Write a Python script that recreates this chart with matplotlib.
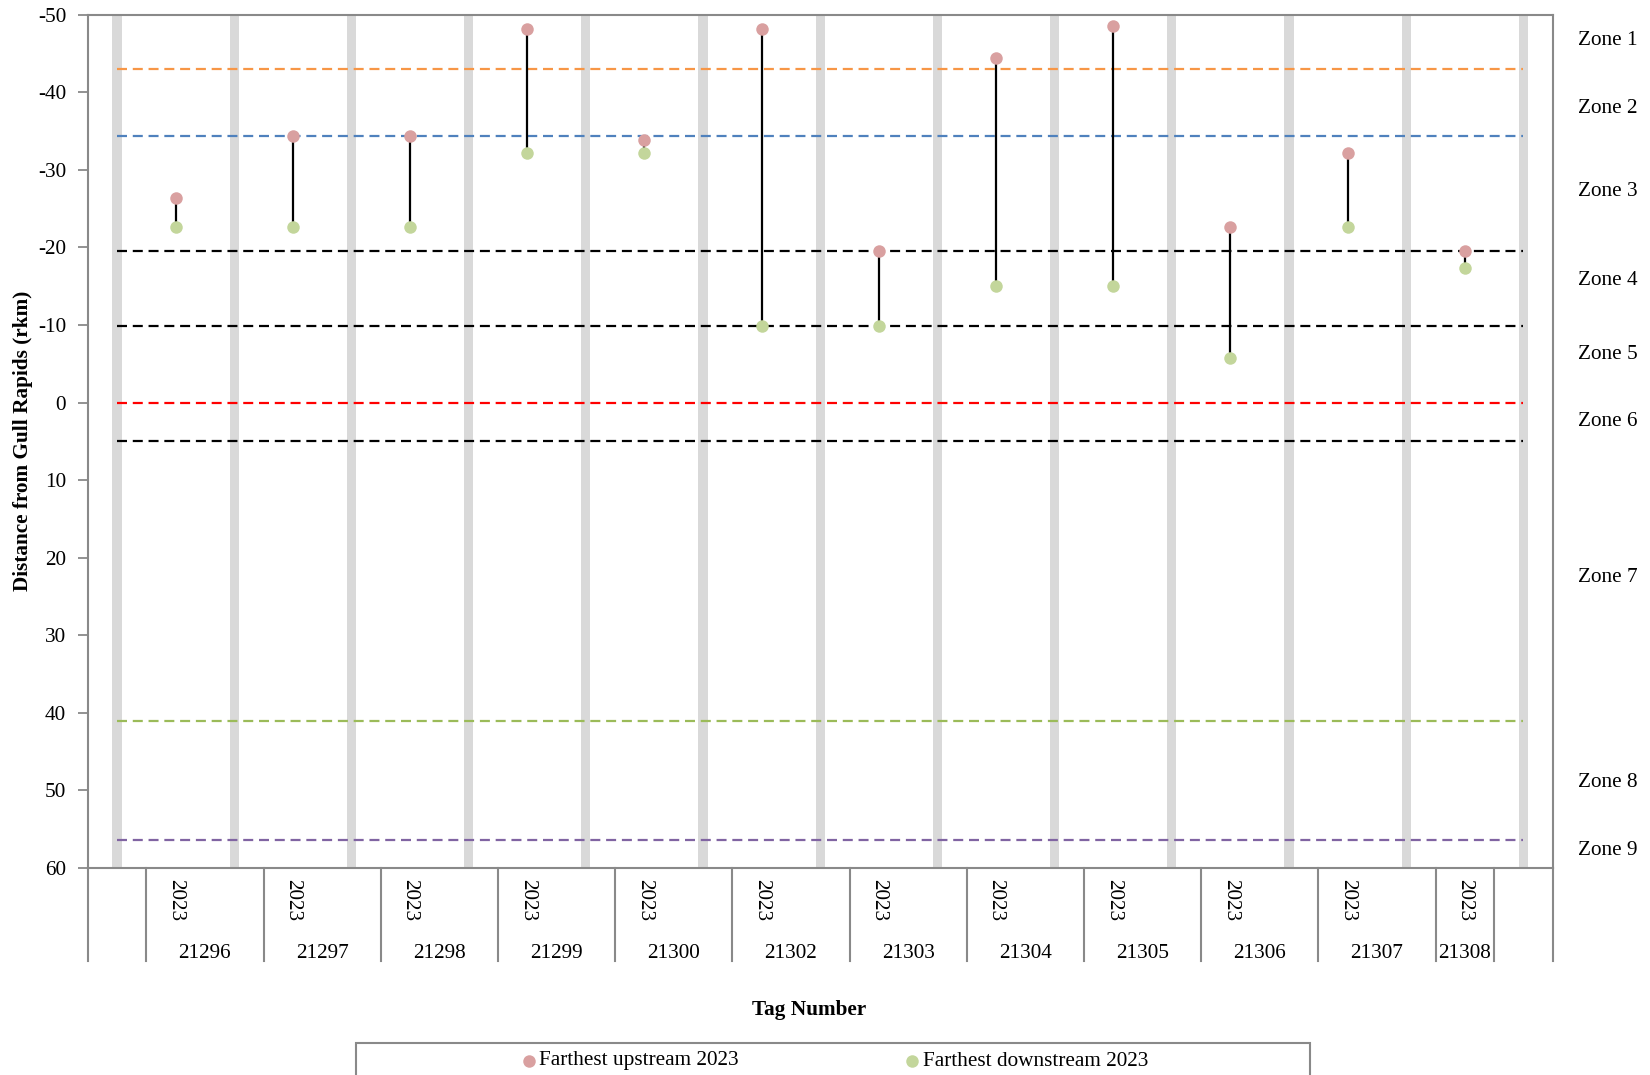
import matplotlib
matplotlib.use("Agg")
import matplotlib.pyplot as plt
from matplotlib.lines import Line2D
from matplotlib.patches import Rectangle

plt.rcParams['font.family'] = ['Liberation Serif', 'DejaVu Serif']
plt.rcParams['axes.unicode_minus'] = False

# ---------------- data ----------------
tags = ['21296', '21297', '21298', '21299', '21300', '21302', '21303',
        '21304', '21305', '21306', '21307', '21308']
year_label = '2023'
upstream = [-26.4, -34.4, -34.4, -48.2, -33.9, -48.2, -19.6, -44.4, -48.6, -22.6, -32.2, -19.6]
downstream = [-22.6, -22.6, -22.6, -32.2, -32.2, -9.9, -9.9, -15.0, -15.0, -5.8, -22.6, -17.4]

zone_line_values = [-43.0, -34.4, -19.6, -9.9, 0.0, 4.9, 41.0, 56.4]
zone_line_colors = ['#F79646', '#4F81BD', 'black', 'black', '#FF0000', 'black', '#9BBB59', '#8064A2']

zone_names = ['Zone 1', 'Zone 2', 'Zone 3', 'Zone 4', 'Zone 5', 'Zone 6', 'Zone 7', 'Zone 8', 'Zone 9']
zone_label_pos = [-46.65, -37.95, -27.15, -15.75, -6.25, 2.45, 22.55, 48.95, 57.75]

y_ticks = [-50, -40, -30, -20, -10, 0, 10, 20, 30, 40, 50, 60]
y_min, y_max = -50, 60

FS = 15.3

# ---------------- layout ----------------
W, H = 1650, 1075
fig = plt.figure(figsize=(W / 100, H / 100), dpi=100)
ax_l, ax_r, ax_t, ax_b = 87.7, 1552.7, 14.7, 868.0
ax = fig.add_axes([ax_l / W, 1 - ax_b / H, (ax_r - ax_l) / W, (ax_b - ax_t) / H])

n_cat = 2 * len(tags) + 1
sep_x = list(range(0, n_cat, 2))
data_x = list(range(1, n_cat, 2))

# separator columns
ax.bar(sep_x, [y_max - y_min] * len(sep_x), bottom=y_min, width=0.155,
       color='#D9D9D9', zorder=1, linewidth=0)

# zone boundary dashed lines
for v, c in zip(zone_line_values, zone_line_colors):
    ax.plot([sep_x[0], sep_x[-1]], [v, v], color=c, lw=1.6,
            linestyle=(0, (4.5, 2.6)), zorder=2)

# range lines
ax.vlines(data_x, upstream, downstream, color='black', lw=1.6, zorder=3)
ax.plot(data_x, upstream, 'o', color='#D9A0A0', ms=9, mec='none', zorder=4)
ax.plot(data_x, downstream, 'o', color='#C3D69B', ms=9, mec='none', zorder=4)

ax.set_xlim(-0.5, n_cat - 0.5)
ax.set_ylim(y_max, y_min)
ax.set_yticks(y_ticks)
ax.set_yticklabels([str(t) for t in y_ticks])
ax.tick_params(axis='y', length=7.5, width=1.3, color='#898989', pad=8, labelsize=FS)
ax.set_xticks([])
for s in ax.spines.values():
    s.set_color('#898989')
    s.set_linewidth(1.5)

# multi-level category axis
xt = ax.get_xaxis_transform()
line_bottom = -(961 - ax_b) / (ax_b - ax_t)
year_y = -(900 - ax_b) / (ax_b - ax_t)
tag_y = -(954 - ax_b) / (ax_b - ax_t)
for x in data_x:
    ax.text(x, year_y, year_label, rotation=270, ha='center', va='center',
            fontsize=FS, transform=xt, clip_on=False)
# outer groups: each tag spans its data category and the following separator,
# except the last tag which spans only its data category
bounds = [-0.5, 0.5]
for i, tag in enumerate(tags):
    start = data_x[i] - 0.5
    end = data_x[i] + (1.5 if i < len(tags) - 1 else 0.5)
    ax.text((start + end) / 2, tag_y, tag, ha='center', va='center',
            fontsize=FS, transform=xt, clip_on=False)
    bounds.append(end)
bounds.append(n_cat - 0.5)
for b in bounds:
    ax.add_line(Line2D([b, b], [0, line_bottom], transform=xt, color='#898989',
                       lw=1.5, clip_on=False))

# zone labels on right
yt = ax.get_yaxis_transform()
zx = (1578.5 - ax_l) / (ax_r - ax_l)
for name, pos in zip(zone_names, zone_label_pos):
    ax.text(zx, pos, name, ha='left', va='center', fontsize=FS,
            transform=yt, clip_on=False)

# axis titles
fig.text(23 / W, 1 - 441 / H, 'Distance from Gull Rapids (rkm)', rotation=90,
         ha='center', va='center', fontsize=FS, fontweight='bold')
fig.text(809 / W, 1 - 1010 / H, 'Tag Number', ha='center', va='center',
         fontsize=FS, fontweight='bold')

# legend
fig.add_artist(Rectangle((355.7 / W, -0.01), (1310 - 355.7) / W, 0.01 + 1 - 1042.8 / H,
                         transform=fig.transFigure, facecolor='white',
                         edgecolor='#898989', lw=1.5))
leg_y = 1 - 1061 / H
for mx, tx, col, lab in [(529, 539, '#D9A0A0', 'Farthest upstream 2023'),
                         (912, 923, '#C3D69B', 'Farthest downstream 2023')]:
    fig.add_artist(Line2D([mx / W], [leg_y], marker='o', ms=9, color=col,
                          mec='none', transform=fig.transFigure))
    fig.text(tx / W, leg_y, lab, ha='left', va='center', fontsize=FS)

fig.savefig('out.png', dpi=100)
